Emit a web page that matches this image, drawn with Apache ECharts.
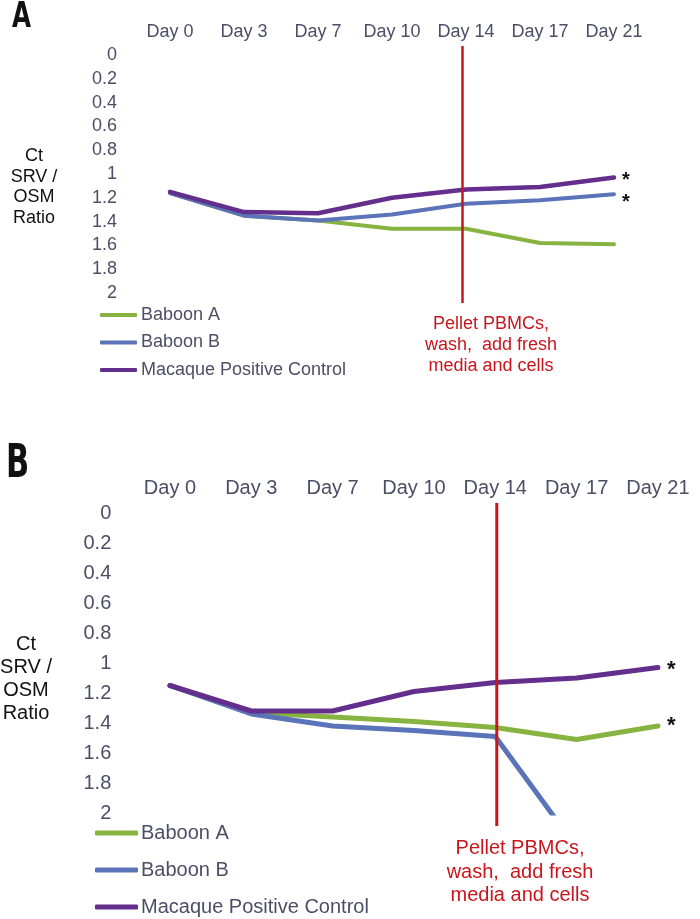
<!DOCTYPE html>
<html>
<head>
<meta charset="utf-8">
<script src="https://cdn.jsdelivr.net/npm/echarts@6/dist/echarts.min.js"></script>
<style>
  html, body { margin: 0; padding: 0; background: #fff; }
  #chart { width: 700px; height: 919px; }
</style>
</head>
<body>
<div id="chart"></div>
<script>
// ---- data ----
const categories = ['Day 0', 'Day 3', 'Day 7', 'Day 10', 'Day 14', 'Day 17', 'Day 21'];
const yTicks = [0, 0.2, 0.4, 0.6, 0.8, 1, 1.2, 1.4, 1.6, 1.8, 2];
const seriesNames = ['Baboon A', 'Baboon B', 'Macaque Positive Control'];

// Panel A
const baboonA_A = [1.16, 1.35, 1.39, 1.46, 1.46, 1.58, 1.59];
const baboonB_A = [1.16, 1.35, 1.39, 1.34, 1.25, 1.22, 1.17];
const macaque_A = [1.15, 1.32, 1.33, 1.20, 1.13, 1.11, 1.03];

// Panel B
const baboonA_B = [1.15, 1.33, 1.36, 1.39, 1.43, 1.51, 1.42];
const baboonB_B = [1.15, 1.34, 1.42, 1.45, 1.49, 2.23, null];
const macaque_B = [1.15, 1.32, 1.32, 1.19, 1.13, 1.10, 1.03];

// annotation (vertical marker at Day 14 spanning the axis range)
const markerDay = 'Day 14';
const markerRange = [0, 2];
const annotationText = 'Pellet PBMCs,\nwash,  add fresh\nmedia and cells';
const yTitle = 'Ct\nSRV /\nOSM\nRatio';

// ---- styles ----
const GREEN = '#87b340';
const BLUE = '#5a73b9';
const PURPLE = '#642e8c';
const RED = '#c8161d';
const TICK = '#4b4f66';
const FONT = "'Liberation Sans', Arial, sans-serif";
const PANEL_FONT = "'DejaVu Sans Condensed', 'Liberation Sans Narrow', sans-serif";

const chart = echarts.init(document.getElementById('chart'), null, { renderer: 'canvas' });

function lineSeries(name, data, color, idx, width, star) {
  const s = {
    name, type: 'line', data,
    xAxisIndex: idx, yAxisIndex: idx,
    showSymbol: false, symbol: 'none',
    connectNulls: false,
    clip: true,
    lineStyle: { color, width, cap: 'round', join: 'round' },
    itemStyle: { color },
    emphasis: { disabled: true },
    animation: false
  };
  if (star) {
    s.endLabel = {
      show: true, formatter: '*', color: '#111', fontFamily: FONT,
      fontWeight: 'bold', fontSize: star.size, distance: star.dist, offset: [0, star.dy]
    };
  }
  return s;
}

function markerSeries(idx, dx, ext1, ext2, width) {
  return {
    type: 'custom', xAxisIndex: idx, yAxisIndex: idx,
    data: [[markerDay, markerRange[0], markerRange[1]]],
    clip: false, silent: true, animation: false,
    z: 5,
    renderItem: function (params, api) {
      const p1 = api.coord([api.value(0), api.value(1)]);
      const p2 = api.coord([api.value(0), api.value(2)]);
      return {
        type: 'line',
        shape: { x1: p1[0] + dx, y1: p1[1] - ext1, x2: p2[0] + dx, y2: p2[1] + ext2 },
        style: { stroke: RED, lineWidth: width }
      };
    }
  };
}

function xAxisCfg(idx, size, margin) {
  return {
    type: 'category', gridIndex: idx, data: categories, position: 'top',
    boundaryGap: true,
    axisLine: { show: false }, axisTick: { show: false }, splitLine: { show: false },
    axisLabel: { color: TICK, fontSize: size, fontFamily: FONT, margin, interval: 0 }
  };
}
function yAxisCfg(idx, size, margin) {
  return {
    type: 'value', gridIndex: idx, inverse: true,
    min: yTicks[0], max: yTicks[yTicks.length - 1], interval: yTicks[1] - yTicks[0],
    axisLine: { show: false }, axisTick: { show: false }, splitLine: { show: false },
    axisLabel: { color: TICK, fontSize: size, fontFamily: FONT, margin, showMinLabel: true, showMaxLabel: true }
  };
}

const option = {
  backgroundColor: '#fff',
  animation: false,
  grid: [
    { left: 133, top: 55, width: 518, height: 238 },
    { left: 129.3, top: 513, width: 569.3, height: 300 }
  ],
  xAxis: [xAxisCfg(0, 18, 14), xAxisCfg(1, 20, 15)],
  yAxis: [yAxisCfg(0, 18, 16), yAxisCfg(1, 20, 18)],
  legend: [
    {
      orient: 'vertical', left: 100, top: 306, padding: 0,
      itemWidth: 37, itemHeight: 4, itemGap: 9.5, icon: 'roundRect',
      data: seriesNames, selectedMode: false,
      textStyle: { color: TICK, fontSize: 18, fontFamily: FONT, lineHeight: 18, padding: [0, 0, 0, -1] }
    },
    {
      orient: 'vertical', left: 95, top: 823, padding: 0,
      itemWidth: 43, itemHeight: 5, itemGap: 17, icon: 'roundRect',
      data: seriesNames, selectedMode: false,
      textStyle: { color: TICK, fontSize: 20, fontFamily: FONT, lineHeight: 20, padding: [0, 0, 0, -2] }
    }
  ],
  series: [
    lineSeries('Baboon A', baboonA_A, GREEN, 0, 4),
    lineSeries('Baboon B', baboonB_A, BLUE, 0, 4, { size: 20, dist: 8, dy: 8 }),
    lineSeries('Macaque Positive Control', macaque_A, PURPLE, 0, 4.5, { size: 20, dist: 8, dy: 3 }),
    markerSeries(0, -3.5, 9, 10, 2.5),
    lineSeries('Baboon A', baboonA_B, GREEN, 1, 5, { size: 22, dist: 9, dy: 0 }),
    lineSeries('Baboon B', baboonB_B, BLUE, 1, 5),
    lineSeries('Macaque Positive Control', macaque_B, PURPLE, 1, 5, { size: 22, dist: 9, dy: 2 }),
    markerSeries(1, 1.5, 10, 13, 3)
  ],
  graphic: [
    { type: 'text', x: 12, y: 0, scaleX: 0.78, style: { text: 'A', fontSize: 35, fontWeight: 'bold', fontFamily: PANEL_FONT, fill: '#111' } },
    { type: 'text', x: 6, y: 441, scaleX: 0.72, style: { text: 'B', fontSize: 47, fontWeight: 'bold', fontFamily: PANEL_FONT, fill: '#111' } },
    { type: 'text', x: 34, y: 146, style: { text: yTitle, fontSize: 18, lineHeight: 20.5, align: 'center', verticalAlign: 'top', fontFamily: FONT, fill: '#111' } },
    { type: 'text', x: 26, y: 633, style: { text: yTitle, fontSize: 20, lineHeight: 23, align: 'center', verticalAlign: 'top', fontFamily: FONT, fill: '#111' } },
    { type: 'text', x: 491, y: 314, style: { text: annotationText, fontSize: 18, lineHeight: 21, align: 'center', verticalAlign: 'top', fontFamily: FONT, fill: RED } },
    { type: 'text', x: 520, y: 837, style: { text: annotationText, fontSize: 20, lineHeight: 23.5, align: 'center', verticalAlign: 'top', fontFamily: FONT, fill: RED } }
  ]
};
chart.setOption(option);
</script>
</body>
</html>
